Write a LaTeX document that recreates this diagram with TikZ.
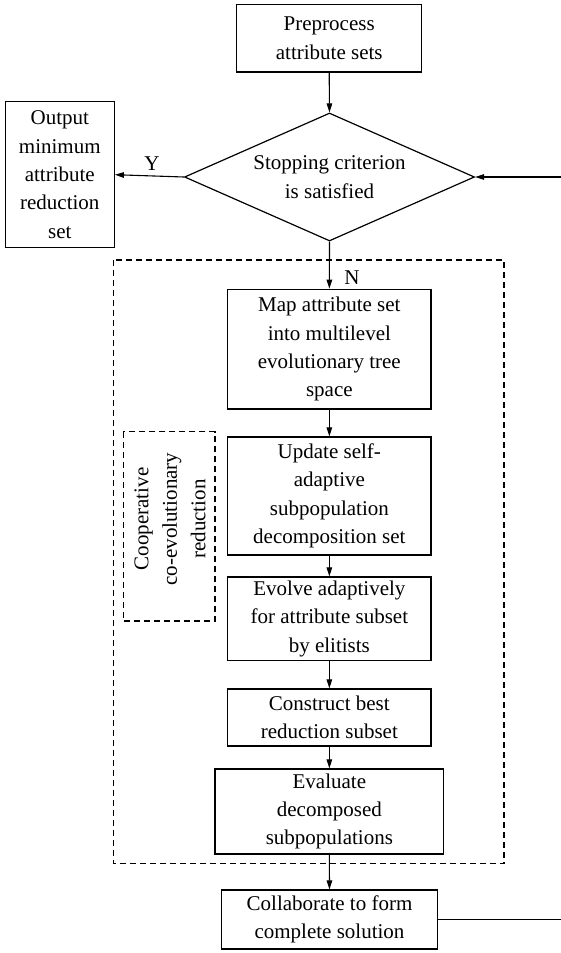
\documentclass[tikz,border=0pt]{standalone}
\usepackage{fontspec}
\setmainfont{Liberation Serif}
\usetikzlibrary{shapes.geometric,arrows.meta}
\begin{document}
\begin{tikzpicture}[x=1pt,y=-1pt,
  txt/.style={font=\fontsize{21}{28.4}\selectfont, align=center},
  box/.style={txt, draw, line width=1.2pt, inner sep=0pt},
  dbox/.style={draw, line width=1.1pt, dash pattern=on 6pt off 4pt},
  arr/.style={line width=1.1pt, -{Triangle[length=9pt,width=5.5pt]}},
  lbl/.style={font=\fontsize{21}{24}\selectfont, inner sep=0pt}
]
\useasboundingbox (0,0) rectangle (560,953);

% dashed groups
\draw[dbox] (113.3,260) rectangle (504,863.5);
\draw[dbox] (123.3,431.7) rectangle (215,621);
\node[txt, rotate=90] (coop) at (170,519) {Cooperative\\co-evolutionary\\reduction};

% nodes
\node[box, minimum width=185pt, minimum height=67.3pt] (pre) at (329.2,38.35) {Preprocess\\attribute sets};
\node[txt, draw, line width=1.2pt, diamond, inner sep=0pt, aspect=2.27,
      minimum width=290pt, minimum height=128pt] (dia) at (329.5,177) {Stopping criterion\\is satisfied};
\node[box, minimum width=109pt, minimum height=146pt] (out) at (59.8,174.7) {Output\\minimum\\attribute\\reduction\\set};
\node[box, minimum width=203.3pt, minimum height=119.7pt] (map) at (329.35,349.15) {Map attribute set\\into multilevel\\evolutionary tree\\space};
\node[box, minimum width=203.3pt, minimum height=118pt] (upd) at (329.35,496) {Update self-\\adaptive\\subpopulation\\decomposition set};
\node[box, minimum width=203.3pt, minimum height=83.7pt] (evo) at (329.35,618.85) {Evolve adaptively\\for attribute subset\\by elitists};
\node[box, minimum width=203.3pt, minimum height=57pt] (con) at (329.35,717.5) {Construct best\\reduction subset};
\node[box, minimum width=228.7pt, minimum height=85pt] (eva) at (329.35,811.5) {Evaluate\\decomposed\\subpopulations};
\node[box, minimum width=215.6pt, minimum height=59pt] (col) at (329.5,919.5) {Collaborate to form\\complete solution};

% connectors
\draw[arr] (pre.south) -- (dia.north);
\draw[arr] (dia.west) -- (out.east);
\node[lbl] (ylab) at (152,164) {Y};
\draw[arr] (dia.south) -- (map.north);
\node[lbl] (nlab) at (352,278) {N};
\draw[arr] (map.south) -- (upd.north);
\draw[arr] (upd.south) -- (evo.north);
\draw[arr] (evo.south) -- (con.north);
\draw[arr] (con.south) -- (eva.north);
\draw[arr] (eva.south) -- (col.north);
\coordinate (fb) at (562,919.5);
\draw[arr] (col.east) -- (fb) |- (dia.east);
\end{tikzpicture}
\end{document}
